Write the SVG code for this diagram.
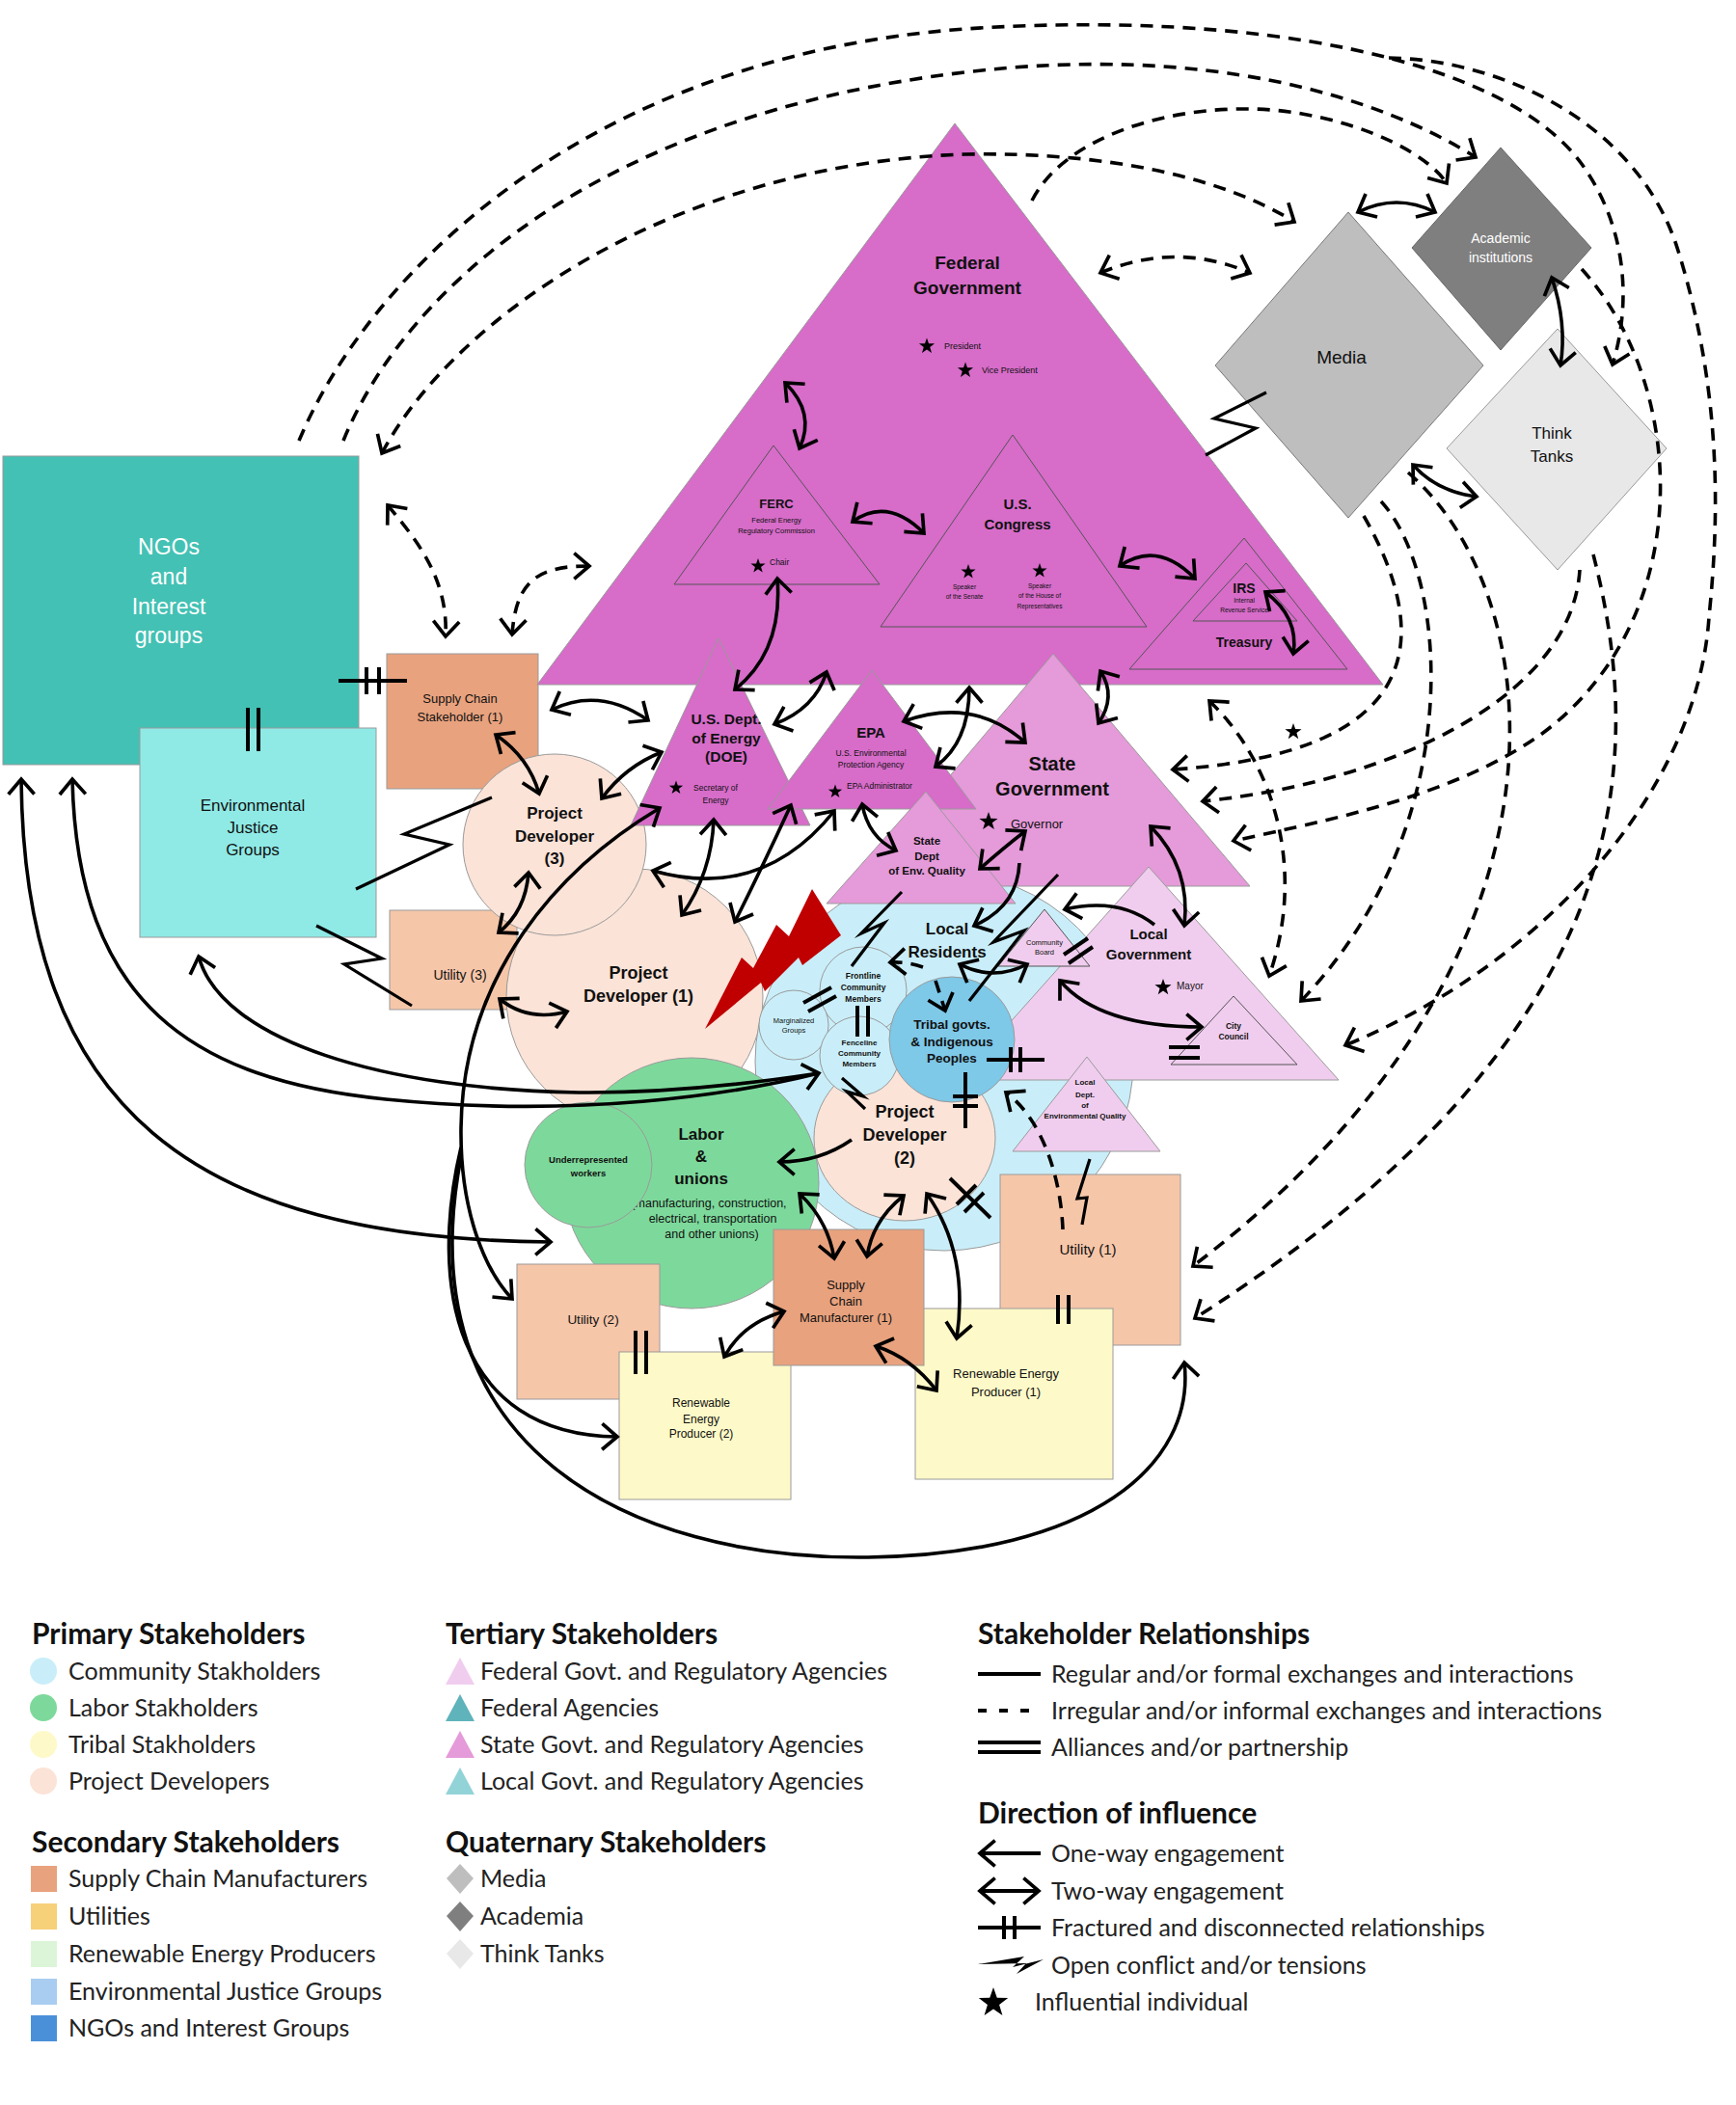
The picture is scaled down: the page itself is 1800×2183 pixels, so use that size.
<svg xmlns="http://www.w3.org/2000/svg" xmlns:xlink="http://www.w3.org/1999/xlink" width="1800" height="2183" viewBox="0 0 1800 2183">
<defs>
<marker id="ah" viewBox="0 0 10 10" refX="8.5" refY="5" markerWidth="32" markerHeight="32" markerUnits="userSpaceOnUse" orient="auto-start-reverse" overflow="visible">
<path d="M3.6,0.8 L8.5,5 L3.6,9.2" fill="none" stroke="#000" stroke-width="1.15" stroke-linejoin="miter"/>
</marker>
<path id="star" d="M0,-10 L2.35,-3.24 L9.51,-3.09 L3.8,1.24 L5.88,8.09 L0,4 L-5.88,8.09 L-3.8,1.24 L-9.51,-3.09 L-2.35,-3.24 Z" fill="#000"/>
<style>
.c{fill:none;stroke:#000;stroke-width:3.6;stroke-linecap:butt}
.d{fill:none;stroke:#000;stroke-width:3.6;stroke-dasharray:13 9}
.two{marker-start:url(#ah);marker-end:url(#ah)}
.one{marker-end:url(#ah)}
.st{marker-start:url(#ah)}
.bar{fill:none;stroke:#000;stroke-width:4}
.bolt{fill:none;stroke:#000;stroke-width:3.2;stroke-linejoin:miter;stroke-miterlimit:12}
.ns{stroke:#9a9a9a;stroke-width:1}
.tri{stroke:#555;stroke-width:1}
.b{font-family:"Liberation Sans",Arial,sans-serif;font-weight:bold;text-anchor:middle;fill:#111}
.r{font-family:"Liberation Sans",Arial,sans-serif;text-anchor:middle;fill:#111}
.lh{font-family:Lato,"Noto Sans",sans-serif;font-weight:bold;font-size:30px;fill:#111}
.li{font-family:Lato,"Noto Sans",sans-serif;font-size:25px;fill:#222}
</style>
</defs>
<rect width="1800" height="2183" fill="#fff"/>

<!-- Nodes -->
<g id="ngos">
<rect x="3" y="473" width="369" height="320" fill="#43c1b4" class="ns"/>
<text class="r" font-size="23" style="fill:#fff"><tspan x="175" y="575">NGOs</tspan><tspan x="175" y="606">and</tspan><tspan x="175" y="637">Interest</tspan><tspan x="175" y="667">groups</tspan></text>
</g>
<g id="env-justice">
<rect x="145" y="755" width="245" height="217" fill="#8feae6" class="ns"/>
<text class="r" font-size="17"><tspan x="262" y="841">Environmental</tspan><tspan x="262" y="864">Justice</tspan><tspan x="262" y="887">Groups</tspan></text>
</g>
<g id="supply-chain-1">
<rect x="401" y="678" width="157" height="140" fill="#e8a27e" class="ns"/>
<text class="r" font-size="13"><tspan x="477" y="729">Supply Chain</tspan><tspan x="477" y="748">Stakeholder (1)</tspan></text>
</g>
<g id="utility-3">
<rect x="404" y="944" width="132" height="103" fill="#f6c6a9" class="ns"/>
<text class="r" font-size="14" x="477" y="1016">Utility (3)</text>
</g>
<g id="project-developer-1">
<circle cx="658" cy="1034" r="133" fill="#fbe3d7" class="ns"/>
<text class="b" font-size="18"><tspan x="662" y="1015">Project</tspan><tspan x="662" y="1039">Developer (1)</tspan></text>
</g>
<g id="project-developer-3">
<ellipse cx="575" cy="876" rx="95" ry="94" fill="#fbe3d7" class="ns"/>
<text class="b" font-size="17"><tspan x="575" y="849">Project</tspan><tspan x="575" y="873">Developer</tspan><tspan x="575" y="896">(3)</tspan></text>
</g>
<g id="community">
<circle cx="979" cy="1101" r="196" fill="#c9eef9" class="ns"/>
</g>
<g id="federal-government">
<polygon points="990,128 557,710 1434,710" fill="#d76cc9" class="ns"/>
<text class="b" font-size="19"><tspan x="1003" y="279">Federal</tspan><tspan x="1003" y="305">Government</tspan></text>
<use href="#star" transform="translate(961,359) scale(0.85)"/>
<text class="r" font-size="9" x="979" y="362" style="text-anchor:start">President</text>
<use href="#star" transform="translate(1001,384) scale(0.85)"/>
<text class="r" font-size="9" x="1018" y="387" style="text-anchor:start">Vice President</text>
</g>
<g id="ferc">
<polygon points="802,462 699,606 912,606" fill="#d76cc9" class="tri"/>
<text class="b" font-size="13" x="805" y="527">FERC</text>
<text class="r" font-size="7.5"><tspan x="805" y="542">Federal Energy</tspan><tspan x="805" y="553">Regulatory Commission</tspan></text>
<use href="#star" transform="translate(786,587) scale(0.8)"/>
<text class="r" font-size="8.5" x="798" y="586" style="text-anchor:start">Chair</text>
</g>
<g id="us-congress">
<polygon points="1050,451 913,650 1189,650" fill="#d76cc9" class="tri"/>
<text class="b" font-size="15"><tspan x="1055" y="528">U.S.</tspan><tspan x="1055" y="549">Congress</tspan></text>
<use href="#star" transform="translate(1004,593) scale(0.8)"/>
<use href="#star" transform="translate(1078,592) scale(0.8)"/>
<text class="r" font-size="6.5"><tspan x="1000" y="611">Speaker</tspan><tspan x="1000" y="621">of the Senate</tspan></text>
<text class="r" font-size="6.5"><tspan x="1078" y="610">Speaker</tspan><tspan x="1078" y="620">of the House of</tspan><tspan x="1078" y="631">Representatives</tspan></text>
</g>
<g id="treasury">
<polygon points="1290,558 1171,694 1397,694" fill="#d76cc9" class="tri"/>
<text class="b" font-size="14" x="1290" y="671">Treasury</text>
</g>
<g id="irs">
<polygon points="1292,584 1237,644 1345,644" fill="#d76cc9" class="tri"/>
<text class="b" font-size="14" x="1290" y="615">IRS</text>
<text class="r" font-size="6.5"><tspan x="1290" y="625">Internal</tspan><tspan x="1290" y="635">Revenue Service</tspan></text>
</g>
<g id="doe">
<polygon points="745,662 654,856 840,856" fill="#d76cc9" class="ns"/>
<text class="b" font-size="15.5"><tspan x="753" y="751">U.S. Dept.</tspan><tspan x="753" y="771">of Energy</tspan><tspan x="753" y="790">(DOE)</tspan></text>
<use href="#star" transform="translate(701,817) scale(0.75)"/>
<text class="r" font-size="8.5"><tspan x="742" y="820">Secretary of</tspan><tspan x="742" y="833">Energy</tspan></text>
</g>
<g id="state-government">
<polygon points="1092,678 888,919 1296,919" fill="#e59ad9" class="ns"/>
<text class="b" font-size="20"><tspan x="1091" y="799">State</tspan><tspan x="1091" y="825">Government</tspan></text>
<use href="#star" transform="translate(1025,852) scale(1)"/>
<text class="r" font-size="13" x="1048" y="859" style="text-anchor:start">Governor</text>
</g>
<g id="epa">
<polygon points="904,695 796,839 1012,839" fill="#d76cc9" class="ns"/>
<text class="b" font-size="15" x="903" y="765">EPA</text>
<text class="r" font-size="8.5"><tspan x="903" y="784">U.S. Environmental</tspan><tspan x="903" y="796">Protection Agency</tspan></text>
<use href="#star" transform="translate(866,821) scale(0.75)"/>
<text class="r" font-size="8.5" x="878" y="818" style="text-anchor:start">EPA Administrator</text>
</g>
<g id="state-dept-env-quality">
<polygon points="960,821 857,937 1053,937" fill="#e59ad9" class="ns"/>
<text class="b" font-size="11.5"><tspan x="961" y="876">State</tspan><tspan x="961" y="892">Dept</tspan><tspan x="961" y="907">of  Env. Quality</tspan></text>
</g>
<g id="local-government">
<polygon points="1191,899 994,1120 1388,1120" fill="#f0cdee" class="ns"/>
<text class="b" font-size="15"><tspan x="1191" y="974">Local</tspan><tspan x="1191" y="995">Government</tspan></text>
<use href="#star" transform="translate(1206,1024) scale(0.9)"/>
<text class="r" font-size="10" x="1220" y="1026" style="text-anchor:start">Mayor</text>
</g>
<g id="city-council">
<polygon points="1279,1033 1214,1104 1345,1104" fill="#f0cdee" class="tri"/>
<text class="b" font-size="8.5"><tspan x="1279" y="1067">City</tspan><tspan x="1279" y="1078">Council</tspan></text>
</g>
<g id="community-board">
<polygon points="1083,943 1035,1002 1130,1002" fill="#f0cdee" class="tri"/>
<text class="r" font-size="7.5"><tspan x="1083" y="980">Community</tspan><tspan x="1083" y="990">Board</tspan></text>
</g>
<g id="local-dept-env-quality">
<polygon points="1127,1096 1050,1194 1203,1194" fill="#f0cdee" class="ns"/>
<text class="b" font-size="8"><tspan x="1125" y="1125">Local</tspan><tspan x="1125" y="1138">Dept.</tspan><tspan x="1125" y="1149">of</tspan><tspan x="1125" y="1160">Environmental Quality</tspan></text>
</g>
<g id="labor-unions">
<ellipse cx="717" cy="1227" rx="132" ry="130" fill="#7dd99b" class="ns"/>
<text class="b" font-size="17"><tspan x="727" y="1182">Labor</tspan><tspan x="727" y="1205">&amp;</tspan><tspan x="727" y="1228">unions</tspan></text>
<text class="r" font-size="12.5"><tspan x="735" y="1252">(manufacturing, construction,</tspan><tspan x="739" y="1268">electrical, transportation</tspan><tspan x="738" y="1284">and other unions)</tspan></text>
</g>
<g id="underrepresented-workers">
<ellipse cx="610" cy="1208" rx="66" ry="65" fill="#7dd99b" class="ns"/>
<text class="b" font-size="9.5"><tspan x="610" y="1206">Underrepresented</tspan><tspan x="610" y="1220">workers</tspan></text>
</g>
<g id="project-developer-2">
<ellipse cx="938" cy="1180" rx="94" ry="86" fill="#fbe3d7" class="ns"/>
<text class="b" font-size="18"><tspan x="938" y="1159">Project</tspan><tspan x="938" y="1183">Developer</tspan><tspan x="938" y="1207">(2)</tspan></text>
</g>
<g id="local-residents">
<text class="b" font-size="17"><tspan x="982" y="969">Local</tspan><tspan x="982" y="993">Residents</tspan></text>
</g>
<g id="frontline">
<circle cx="895" cy="1027" r="45" fill="#c9eef9" class="ns"/>
<text class="b" font-size="8.5"><tspan x="895" y="1015">Frontline</tspan><tspan x="895" y="1027">Community</tspan><tspan x="895" y="1039">Members</tspan></text>
</g>
<g id="marginalized">
<circle cx="823" cy="1063" r="36" fill="#c9eef9" class="ns"/>
<text class="r" font-size="7.5"><tspan x="823" y="1061">Marginalized</tspan><tspan x="823" y="1071">Groups</tspan></text>
</g>
<g id="fenceline">
<circle cx="891" cy="1095" r="41" fill="#c9eef9" class="ns"/>
<text class="b" font-size="8"><tspan x="891" y="1084">Fenceline</tspan><tspan x="891" y="1095">Community</tspan><tspan x="891" y="1106">Members</tspan></text>
</g>
<g id="tribal">
<circle cx="987" cy="1078" r="65" fill="#7ec8e8" class="ns"/>
<text class="b" font-size="13.5"><tspan x="987" y="1067">Tribal govts.</tspan><tspan x="987" y="1085">&amp; Indigenous</tspan><tspan x="987" y="1102">Peoples</tspan></text>
</g>
<g id="utility-1">
<rect x="1037" y="1218" width="187" height="177" fill="#f6c6a9" class="ns"/>
<text class="r" font-size="15" x="1128" y="1301">Utility (1)</text>
</g>
<g id="utility-2">
<rect x="536" y="1311" width="148" height="140" fill="#f6c6a9" class="ns"/>
<text class="r" font-size="13.5" x="615" y="1373">Utility (2)</text>
</g>
<g id="renewable-1">
<rect x="949" y="1357" width="205" height="177" fill="#fef9c8" class="ns"/>
<text class="r" font-size="13"><tspan x="1043" y="1429">Renewable Energy</tspan><tspan x="1043" y="1448">Producer (1)</tspan></text>
</g>
<g id="renewable-2">
<rect x="642" y="1402" width="178" height="153" fill="#fef9c8" class="ns"/>
<text class="r" font-size="12"><tspan x="727" y="1459">Renewable</tspan><tspan x="727" y="1476">Energy</tspan><tspan x="727" y="1491">Producer (2)</tspan></text>
</g>
<g id="supply-chain-manufacturer-1">
<rect x="802" y="1275" width="156" height="141" fill="#e8a27e" class="ns"/>
<text class="r" font-size="13"><tspan x="877" y="1337">Supply</tspan><tspan x="877" y="1354">Chain</tspan><tspan x="877" y="1371">Manufacturer (1)</tspan></text>
</g>
<g id="media">
<polygon points="1398,220 1538,379 1398,537 1260,379" fill="#bebebe" stroke="#777" stroke-width="1"/>
<text class="r" font-size="19" x="1391" y="377">Media</text>
</g>
<g id="academic">
<polygon points="1556,153 1650,257 1556,363 1464,257" fill="#7f7f7f" stroke="#666" stroke-width="1"/>
<text class="r" font-size="14" style="fill:#fff"><tspan x="1556" y="252">Academic</tspan><tspan x="1556" y="272">institutions</tspan></text>
</g>
<g id="think-tanks">
<polygon points="1615,341 1728,465 1615,591 1500,465" fill="#e8e8e8" stroke="#999" stroke-width="1"/>
<text class="r" font-size="17"><tspan x="1609" y="455">Think</tspan><tspan x="1609" y="479">Tanks</tspan></text>
</g>
<g id="conflict-bolt">
<polygon points="731,1067 769,993 781,1004 805,959 818,971 842,922 872,970 832,1001 828,993 793,1028 789,1019" fill="#c00000"/>
</g>
<g id="influential-star">
<use href="#star" transform="translate(1341,759) scale(0.9)"/>
</g>

<!-- Connectors -->
<g id="connectors">
<path class="c two" d="M814,397 Q846,428 829,465"/>
<path class="c two" d="M884,541 Q920,515 958,553"/>
<path class="c two" d="M1161,587 Q1200,560 1239,600"/>
<path class="c two" d="M1312,614 Q1347,640 1341,678"/>
<path class="c two" d="M806,600 Q812,675 762,715"/>
<path class="c two" d="M572,736 Q622,712 672,747"/>
<path class="c two" d="M803,751 Q845,735 857,697"/>
<path class="c two" d="M937,748 Q1010,722 1063,770"/>
<path class="c two" d="M1005,713 Q1005,770 970,795"/>
<path class="c two" d="M1141,696 Q1158,722 1139,750"/>
<path class="c two" d="M624,828 Q648,795 686,780"/>
<path class="c two" d="M514,762 Q548,785 559,823"/>
<path class="c two" d="M548,905 Q545,945 517,967"/>
<path class="c two" d="M518,1036 Q548,1060 588,1049"/>
<path class="c two" d="M740,850 Q738,905 707,949"/>
<path class="c two" d="M820,835 Q790,900 762,956"/>
<path class="c two" d="M677,903 Q790,935 865,841"/>
<path class="c two" d="M894,834 Q900,868 929,882"/>
<path class="c two" d="M829,1238 Q858,1265 865,1305"/>
<path class="c two" d="M937,1240 Q905,1265 899,1303"/>
<path class="c two" d="M961,1238 Q1005,1300 992,1388"/>
<path class="c two" d="M813,1360 Q770,1372 751,1407"/>
<path class="c two" d="M908,1396 Q945,1408 971,1442"/>
<path class="c two" d="M1099,1017 Q1140,1065 1246,1065"/>
<path class="c two" d="M1193,857 Q1235,900 1228,960"/>
<path class="c two" d="M1063,862 Q1042,878 1016,901"/>
<path class="c two" d="M995,1000 Q1030,1018 1065,1000"/>
<path class="c two" d="M1408,220 Q1448,200 1488,220"/>
<path class="c two" d="M1609,288 Q1625,335 1618,379"/>
<path class="c two" d="M1465,482 Q1490,510 1531,515"/>
<path class="c two" d="M22,808 C25,1150 200,1285 571,1288"/>
<path class="c two" d="M75,808 C80,1040 200,1120 400,1140 C600,1160 760,1135 849,1113"/>
<path class="c st" d="M206,992 C230,1080 400,1130 600,1133 C700,1134 790,1122 849,1113"/>
<path class="c two" d="M684,838 C580,900 480,1010 478,1170 C477,1260 505,1320 531,1347"/>
<path class="c one" d="M478,1190 C445,1330 470,1488 640,1490"/>
<path class="c one" d="M478,1200 C420,1500 650,1618 900,1615 C1130,1612 1240,1520 1228,1413"/>
<path class="c one" d="M883,1182 Q850,1205 808,1205"/>
<path class="c one" d="M1197,959 Q1160,930 1104,943"/>
<path class="c one" d="M1057,895 Q1055,940 1010,960"/>
<path class="d two" d="M402,524 C432,560 465,600 462,660"/>
<path class="d two" d="M531,658 C535,600 560,587 611,587"/>
<path class="d two" d="M1141,283 Q1220,250 1296,283"/>
<path class="d two" d="M396,470 C470,330 700,170 1000,160 C1150,157 1270,185 1342,230"/>
<path class="d two" d="M1254,727 C1320,790 1355,900 1316,1012"/>
<path class="d one" d="M310,457 C380,290 600,60 1000,30 C1300,10 1560,60 1640,170 C1690,240 1690,320 1672,378"/>
<path class="d one" d="M356,457 C420,300 620,120 1000,75 C1250,45 1430,100 1530,163"/>
<path class="d one" d="M1070,208 C1110,130 1250,100 1350,118 C1420,130 1480,160 1500,190"/>
<path class="d one" d="M1414,535 C1480,650 1490,780 1216,798"/>
<path class="d one" d="M1638,591 C1630,720 1450,810 1247,831"/>
<path class="d one" d="M1640,279 C1750,400 1760,640 1600,760 C1510,825 1380,850 1279,872"/>
<path class="d one" d="M1432,520 C1505,600 1520,860 1349,1038"/>
<path class="d one" d="M1460,490 C1610,620 1650,1000 1237,1313"/>
<path class="d one" d="M1652,575 C1710,800 1690,1080 1239,1367"/>
<path class="d one" d="M1440,60 C1560,62 1700,130 1740,260 C1790,420 1780,560 1772,640 C1760,820 1600,1000 1395,1084"/>
<path class="d one" d="M957,1003 Q940,997 923,998"/>
<path class="d one" d="M970,1017 L980,1048"/>
<path class="d one" d="M1102,1275 C1100,1220 1080,1160 1043,1133"/>
<g class="bar">
<path d="M351,706 H422 M380,692 V720 M393,692 V720"/>
<path d="M1023,1099 H1083 M1048,1086 V1112 M1058,1086 V1112"/>
<path d="M1001,1112 V1170 M988,1137 H1014 M988,1147 H1014"/>
<path d="M985,1222 L1027,1263 M992,1249 L1012,1229 M1000,1257 L1020,1237"/>
</g>
<g class="bar">
<path d="M257,734 V779 M268,734 V779"/>
<path d="M833,1040 L862,1024 M838,1049 L867,1033"/>
<path d="M889,1043 V1075 M900,1043 V1075"/>
<path d="M1103,990 L1128,973 M1108,999 L1133,982"/>
<path d="M1212,1086 H1244 M1212,1097 H1244"/>
<path d="M1097,1343 V1373 M1108,1343 V1373"/>
<path d="M659,1380 V1425 M670,1380 V1425"/>
</g>
<polyline class="bolt" points="369,922 466,876 419,865 510,827"/>
<polyline class="bolt" points="328,960 396,994 357,1000 427,1043"/>
<polyline class="bolt" points="1250,472 1302,444 1259,434 1313,407"/>
<polyline class="bolt" points="935,925 893,968 917,957 883,1002"/>
<polyline class="bolt" points="1097,907 1030,977 1062,965 1005,1038"/>
<polyline class="bolt" points="873,1118 895,1137 878,1132 897,1150"/>
<polyline class="bolt" points="1130,1202 1117,1243 1127,1242 1122,1270"/>
</g>

<!-- Legend -->
<g id="legend">
<text class="lh" x="33" y="1705">Primary Stakeholders</text>
<circle cx="45" cy="1733" r="14" fill="#c9eef9"/><text class="li" x="71" y="1742">Community Stakholders</text>
<circle cx="45" cy="1771" r="14" fill="#7dd99b"/><text class="li" x="71" y="1780">Labor Stakholders</text>
<circle cx="45" cy="1809" r="14" fill="#fef9c8"/><text class="li" x="71" y="1818">Tribal Stakholders</text>
<circle cx="45" cy="1847" r="14" fill="#fbe3d7"/><text class="li" x="71" y="1856">Project Developers</text>
<text class="lh" x="33" y="1921">Secondary Stakeholders</text>
<rect x="32" y="1935" width="27" height="27" fill="#e8a27e"/><text class="li" x="71" y="1957">Supply Chain Manufacturers</text>
<rect x="32" y="1974" width="27" height="27" fill="#f7d07a"/><text class="li" x="71" y="1996">Utilities</text>
<rect x="32" y="2013" width="27" height="27" fill="#dcf5d8"/><text class="li" x="71" y="2035">Renewable Energy Producers</text>
<rect x="32" y="2052" width="27" height="27" fill="#a9cdf0"/><text class="li" x="71" y="2074">Environmental Justice Groups</text>
<rect x="32" y="2090" width="27" height="27" fill="#4a90d9"/><text class="li" x="71" y="2112">NGOs and Interest Groups</text>

<text class="lh" x="462" y="1705">Tertiary Stakeholders</text>
<polygon points="477,1719 462,1747 492,1747" fill="#f0cdee"/><text class="li" x="498" y="1742">Federal Govt. and Regulatory Agencies</text>
<polygon points="477,1757 462,1785 492,1785" fill="#5fb3bb"/><text class="li" x="498" y="1780">Federal Agencies</text>
<polygon points="477,1795 462,1823 492,1823" fill="#e59ad9"/><text class="li" x="498" y="1818">State Govt. and Regulatory Agencies</text>
<polygon points="477,1833 462,1861 492,1861" fill="#92d3d8"/><text class="li" x="498" y="1856">Local Govt. and Regulatory Agencies</text>
<text class="lh" x="462" y="1921">Quaternary Stakeholders</text>
<polygon points="477,1933 491,1948 477,1964 463,1948" fill="#bebebe"/><text class="li" x="498" y="1957">Media</text>
<polygon points="477,1972 491,1987 477,2003 463,1987" fill="#7f7f7f"/><text class="li" x="498" y="1996">Academia</text>
<polygon points="477,2011 491,2026 477,2042 463,2026" fill="#e8e8e8"/><text class="li" x="498" y="2035">Think Tanks</text>

<text class="lh" x="1014" y="1705">Stakeholder Relationships</text>
<line x1="1014" y1="1736" x2="1079" y2="1736" stroke="#000" stroke-width="4"/>
<text class="li" x="1090" y="1745">Regular and/or formal exchanges and interactions</text>
<line x1="1014" y1="1774" x2="1079" y2="1774" stroke="#000" stroke-width="4" stroke-dasharray="9 13"/>
<text class="li" x="1090" y="1783">Irregular and/or informal exchanges and interactions</text>
<line x1="1014" y1="1807" x2="1079" y2="1807" stroke="#000" stroke-width="4"/>
<line x1="1014" y1="1817" x2="1079" y2="1817" stroke="#000" stroke-width="4"/>
<text class="li" x="1090" y="1821">Alliances and/or partnership</text>
<text class="lh" x="1014" y="1891">Direction of influence</text>
<line class="st" x1="1016" y1="1922" x2="1079" y2="1922" stroke="#000" stroke-width="4"/>
<text class="li" x="1090" y="1931">One-way engagement</text>
<line class="two" x1="1016" y1="1961" x2="1077" y2="1961" stroke="#000" stroke-width="4"/>
<text class="li" x="1090" y="1970">Two-way engagement</text>
<path d="M1014,1999 H1079 M1041,1987 V2011 M1052,1987 V2011" stroke="#000" stroke-width="4" fill="none"/>
<text class="li" x="1090" y="2008">Fractured and disconnected relationships</text>
<polygon points="1014,2037 1062,2029 1050,2040 1082,2032 1054,2047 1064,2036" fill="#000"/>
<text class="li" x="1090" y="2047">Open conflict and/or tensions</text>
<use href="#star" transform="translate(1030,2077) scale(1.6)"/>
<text class="li" x="1073" y="2085">Influential individual</text>
</g>
</svg>
